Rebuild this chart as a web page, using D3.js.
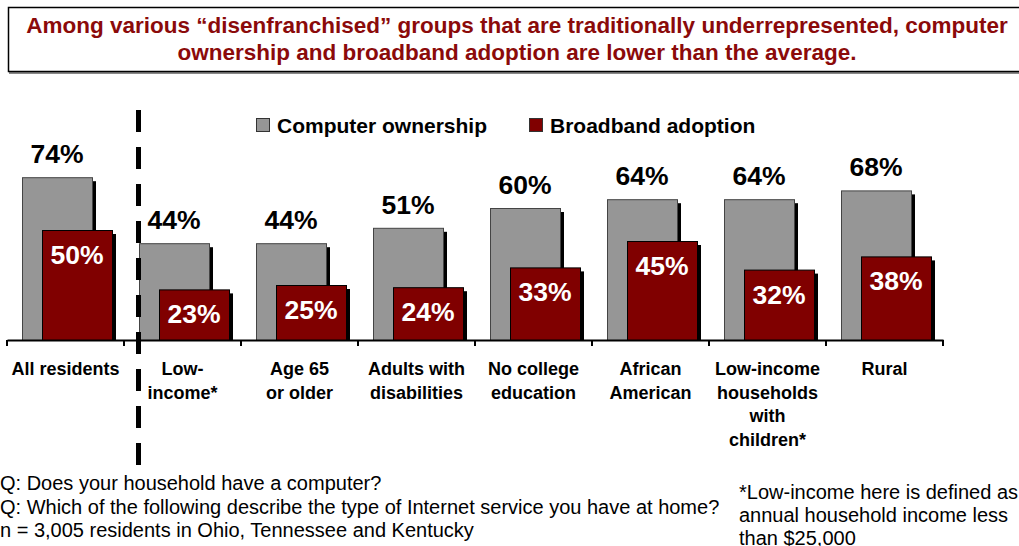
<!DOCTYPE html>
<html>
<head>
  <meta charset="utf-8">
  <title>Computer ownership and broadband adoption</title>
  <script src="https://d3js.org/d3.v7.min.js"></script>
  <style>
    body { margin: 0; background: #fff; }
    text { font-family: Arial, "Liberation Sans", sans-serif; }
  </style>
</head>
<body>
<script>
// data
var categories = ["All residents", "Low-income*", "Age 65 or older", "Adults with disabilities",
                  "No college education", "African American", "Low-income households with children*", "Rural"];
var categoryLines = [["All residents"], ["Low-", "income*"], ["Age 65", "or older"], ["Adults with", "disabilities"],
                     ["No college", "education"], ["African", "American"], ["Low-income", "households", "with", "children*"], ["Rural"]];
var computerOwnership = [74, 44, 44, 51, 60, 64, 64, 68];
var broadbandAdoption = [50, 23, 25, 24, 33, 45, 32, 38];
var seriesNames = ["Computer ownership", "Broadband adoption"];
var titleLines = ["Among various \u201cdisenfranchised\u201d groups that are traditionally underrepresented, computer",
                  "ownership and broadband adoption are lower than the average."];
var questionNotes = ["Q: Does your household have a computer?",
                     "Q: Which of the following describe the type of Internet service you have at home?",
                     "n = 3,005 residents in Ohio, Tennessee and Kentucky"];
var incomeNote = ["*Low-income here is defined as", "annual household income less", "than $25,000"];

var width = 1019, height = 546;
var grey = "#969696", red = "#800000", titleRed = "#8b0a0a";

var svg = d3.select("body").append("svg")
    .attr("width", width)
    .attr("height", height);

// title box
svg.append("rect")
    .attr("x", 9).attr("y", 9).attr("width", 1030).attr("height", 65)
    .attr("fill", "#888");
svg.append("rect")
    .attr("x", 8.5).attr("y", 7.5).attr("width", 1030).attr("height", 64)
    .attr("fill", "#fff").attr("stroke", "#000").attr("stroke-width", 1.5);
svg.selectAll(".title").data(titleLines).enter().append("text")
    .attr("class", "title")
    .attr("x", 517)
    .attr("y", function(d, i) { return 33 + i * 27; })
    .attr("text-anchor", "middle")
    .attr("font-size", 22.5).attr("font-weight", "bold")
    .attr("fill", titleRed)
    .text(function(d) { return d; });

// scales
var x = d3.scaleBand().domain(categories).range([7, 943]);
var y = d3.scaleLinear().domain([0, 100]).range([340, 120]);
var barW = 70;

var groups = svg.selectAll(".grp").data(categories).enter().append("g")
    .attr("class", "grp")
    .attr("transform", function(d) { return "translate(" + x(d) + ",0)"; });

// computer ownership bars (shadow first)
groups.append("rect")
    .attr("x", 15 + 4).attr("y", function(d, i) { return y(computerOwnership[i]) + 4; })
    .attr("width", barW).attr("height", function(d, i) { return y(0) - y(computerOwnership[i]) - 4; })
    .attr("fill", "#000");
groups.append("rect")
    .attr("x", 15.5).attr("y", function(d, i) { return y(computerOwnership[i]) + 0.5; })
    .attr("width", barW).attr("height", function(d, i) { return y(0) - y(computerOwnership[i]); })
    .attr("fill", grey).attr("stroke", "#444").attr("stroke-width", 1);

// broadband bars
groups.append("rect")
    .attr("x", 35 + 4).attr("y", function(d, i) { return y(broadbandAdoption[i]) + 4; })
    .attr("width", barW).attr("height", function(d, i) { return y(0) - y(broadbandAdoption[i]) - 4; })
    .attr("fill", "#000");
groups.append("rect")
    .attr("x", 35.5).attr("y", function(d, i) { return y(broadbandAdoption[i]) + 0.5; })
    .attr("width", barW).attr("height", function(d, i) { return y(0) - y(broadbandAdoption[i]); })
    .attr("fill", red).attr("stroke", "#000").attr("stroke-width", 1);

// value labels
groups.append("text")
    .attr("x", 15 + barW / 2)
    .attr("y", function(d, i) { return y(computerOwnership[i]) - 14; })
    .attr("text-anchor", "middle")
    .attr("font-size", 26.5).attr("font-weight", "bold").attr("fill", "#000")
    .text(function(d, i) { return computerOwnership[i] + "%"; });
groups.append("text")
    .attr("x", 35 + barW / 2)
    .attr("y", function(d, i) { return y(broadbandAdoption[i]) + 34; })
    .attr("text-anchor", "middle")
    .attr("font-size", 26.5).attr("font-weight", "bold").attr("fill", "#fff")
    .text(function(d, i) { return broadbandAdoption[i] + "%"; });

// axis
var axis = svg.append("g")
    .attr("transform", "translate(0," + y(0) + ")")
    .call(d3.axisBottom(x).tickValues([]).tickSizeOuter(0).tickSize(0));
axis.select(".domain").attr("stroke", "#000").attr("stroke-width", 2);
var edges = categories.map(function(d) { return x(d); }).concat([x.range()[1]]);
svg.selectAll(".tick-edge").data(edges).enter().append("line")
    .attr("class", "tick-edge")
    .attr("x1", function(d) { return d; }).attr("x2", function(d) { return d; })
    .attr("y1", y(0)).attr("y2", y(0) + 6)
    .attr("stroke", "#000").attr("stroke-width", 2);

// category labels
groups.each(function(d, i) {
  d3.select(this).selectAll(".cat").data(categoryLines[i]).enter().append("text")
      .attr("class", "cat")
      .attr("x", x.bandwidth() / 2)
      .attr("y", function(l, j) { return 375 + j * 23.5; })
      .attr("text-anchor", "middle")
      .attr("font-size", 18).attr("font-weight", "bold").attr("fill", "#000")
      .text(function(l) { return l; });
});

// dashed separator
svg.append("line")
    .attr("x1", 138.5).attr("x2", 138.5)
    .attr("y1", 110).attr("y2", 472)
    .attr("stroke", "#000").attr("stroke-width", 5)
    .attr("stroke-dasharray", "22,15");

// legend
var legendX = [256, 529];
var legend = svg.selectAll(".leg").data(seriesNames).enter().append("g")
    .attr("class", "leg")
    .attr("transform", function(d, i) { return "translate(" + legendX[i] + ",118)"; });
legend.append("rect")
    .attr("x", 0.5).attr("y", 0.5).attr("width", 13).attr("height", 13)
    .attr("fill", function(d, i) { return i ? red : grey; })
    .attr("stroke", "#333").attr("stroke-width", 1);
legend.append("text")
    .attr("x", 21).attr("y", 14.5)
    .attr("font-size", 21).attr("font-weight", "bold").attr("fill", "#000")
    .text(function(d) { return d; });

// footnotes
svg.selectAll(".qnote").data(questionNotes).enter().append("text")
    .attr("class", "qnote")
    .attr("x", 0).attr("y", function(d, i) { return 490 + i * 23.5; })
    .attr("font-size", 20).attr("fill", "#000")
    .text(function(d) { return d; });
svg.selectAll(".inote").data(incomeNote).enter().append("text")
    .attr("class", "inote")
    .attr("x", 739).attr("y", function(d, i) { return 499 + i * 23; })
    .attr("font-size", 20).attr("fill", "#000")
    .text(function(d) { return d; });
</script>
</body>
</html>
